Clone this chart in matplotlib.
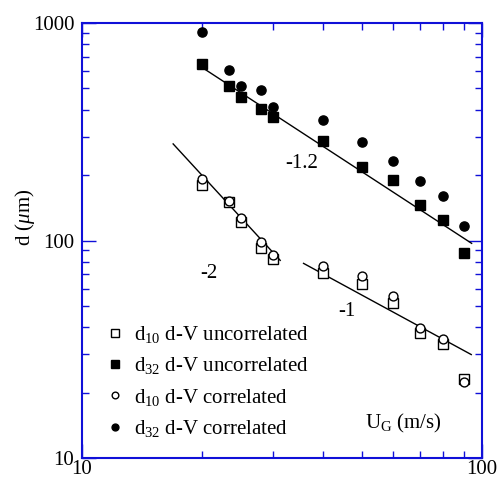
import matplotlib
matplotlib.use("Agg")
import matplotlib.pyplot as plt
import numpy as np
from matplotlib.ticker import LogLocator, NullFormatter, FixedLocator, FixedFormatter

plt.rcParams['font.family'] = ['Liberation Serif', 'DejaVu Serif']
plt.rcParams['mathtext.fontset'] = 'custom'
plt.rcParams['mathtext.rm'] = 'Liberation Serif'
plt.rcParams['mathtext.it'] = 'Liberation Serif:italic'
plt.rcParams['mathtext.bf'] = 'Liberation Serif:bold'

# ---- data ----
ug = [20, 23.3, 25, 28, 30, 40, 50, 60, 70, 80, 90]
d10_uncorr = [180, 151, 121, 92.1, 82.2, 70.7, 63.3, 51.4, 37.4, 33.3, 23.1]
d32_uncorr = [646, 513, 458, 401, 371, 288, 218, 190, 145, 124, 87.9]
d10_corr = [191, 152, 127, 98.7, 85.8, 76.6, 68.7, 55.7, 39.5, 35.1, 22.3]
d32_corr = [912, 606, 515, 492, 410, 358, 284, 231, 188, 161, 117]

# power-law guide lines: d = C * U^slope over [x_start, x_end]
slopes = [-1.2, -2, -1]
prefactors = [22690, 79400, 2810]
x_starts = [20.3, 16.9, 35.8]
x_ends = [94.2, 31.3, 94.0]
slope_labels = ['-1.2', '-2', '-1']
label_x = [35.4, 20.7, 45.9]
label_y = [226, 70.7, 47.1]

series_labels = ['d$_{10}$ d-V uncorrelated', 'd$_{32}$ d-V uncorrelated',
                 'd$_{10}$ d-V correlated', 'd$_{32}$ d-V correlated']

blue = '#1010d8'
fs = 15

fig = plt.figure(figsize=(4.98, 4.80), dpi=100)
ax = fig.add_axes([82/498, 1-458/480, 400/498, 435/480])
ax.set_xscale('log')
ax.set_yscale('log')
ax.set_xlim(10, 100)
ax.set_ylim(10, 1000)

for s, c, x0, x1 in zip(slopes, prefactors, x_starts, x_ends):
    xs = np.array([x0, x1])
    ax.plot(xs, c * xs**s, color='black', lw=1.0, zorder=2)

ax.plot(ug, d10_uncorr, ls='none', marker='s', ms=7.0, mfc='white', mec='black', mew=1.0,
        label=series_labels[0], zorder=3)
ax.plot(ug, d32_uncorr, ls='none', marker='s', ms=7.8, mfc='black', mec='black', mew=1.0,
        label=series_labels[1], zorder=3)
ax.plot(ug, d10_corr, ls='none', marker='o', ms=6.4, mfc='white', mec='black', mew=1.0,
        label=series_labels[2], zorder=4)
ax.plot(ug, d32_corr, ls='none', marker='o', ms=6.6, mfc='black', mec='black', mew=1.0,
        label=series_labels[3], zorder=4)

for t, x, y in zip(slope_labels, label_x, label_y):
    ax.text(x, y, t, fontsize=fs, ha='center', va='center')

ax.text(0.8025, 0.080, 'U$_{\\rm G}$ (m/s)', transform=ax.transAxes, fontsize=fs,
        ha='center', va='center')

leg = ax.legend(loc='lower left', bbox_to_anchor=(0.025, 0.01), frameon=False, fontsize=fs,
                markerscale=0.75, handlelength=0.8, handletextpad=0.5, labelspacing=0.5,
                borderaxespad=0.3)

# ticks
ax.xaxis.set_major_locator(FixedLocator([10, 100]))
ax.xaxis.set_major_formatter(FixedFormatter(['10', '100']))
ax.yaxis.set_major_locator(FixedLocator([10, 100, 1000]))
ax.yaxis.set_major_formatter(FixedFormatter(['10', '100', '1000']))
ax.xaxis.set_minor_locator(LogLocator(base=10, subs=np.arange(2, 10)))
ax.yaxis.set_minor_locator(LogLocator(base=10, subs=np.arange(2, 10)))
ax.xaxis.set_minor_formatter(NullFormatter())
ax.yaxis.set_minor_formatter(NullFormatter())
ax.tick_params(which='both', direction='in', top=True, right=True, color=blue,
               labelcolor='black', labelsize=fs, width=1.0)
ax.tick_params(which='major', length=10)
ax.tick_params(axis='x', which='major', pad=1.5)
ax.tick_params(axis='y', which='major', pad=5.5)
ax.tick_params(which='minor', length=5)
for sp in ax.spines.values():
    sp.set_color(blue)
    sp.set_linewidth(1.5)

fig.text(25/498, 1-217/480, 'd ($\\mu$m)', rotation=90, fontsize=fs, ha='center', va='center')

fig.savefig('out.png', dpi=100)
